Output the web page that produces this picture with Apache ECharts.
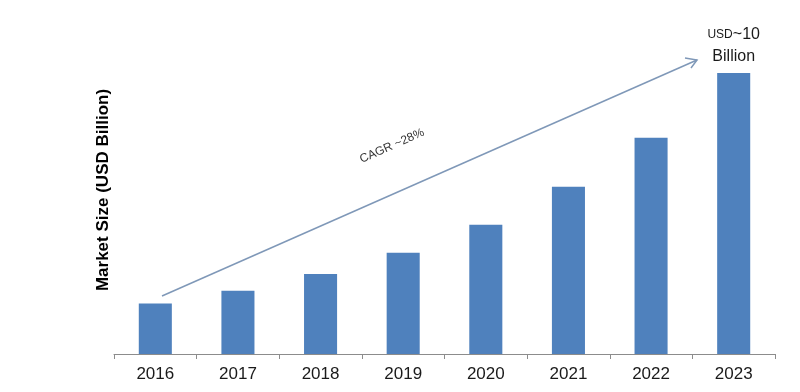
<!DOCTYPE html>
<html>
<head>
<meta charset="utf-8">
<script src="https://cdn.jsdelivr.net/npm/echarts@6/dist/echarts.min.js"></script>
<style>
html,body{margin:0;padding:0;background:#fff;}
#c{width:800px;height:392px;}
</style>
</head>
<body>
<div id="c"></div>
<script>
const categories = ['2016','2017','2018','2019','2020','2021','2022','2023'];
const marketSize = [1.8, 2.25, 2.85, 3.6, 4.6, 5.95, 7.7, 10];
const yAxisTitle = 'Market Size (USD Billion)';
const cagrText = 'CAGR ~28%';

const chart = echarts.init(document.getElementById('c'), null, {renderer:'canvas'});
const font = '"Liberation Sans", Arial, sans-serif';

chart.setOption({
  backgroundColor:'#ffffff',
  animation:false,
  grid:{left:114, right:25, top:73, bottom:38},
  xAxis:{
    type:'category',
    data:categories,
    axisLine:{lineStyle:{color:'#8c8c8c', width:1}},
    axisTick:{show:true, length:5, alignWithLabel:false, lineStyle:{color:'#8c8c8c'}},
    axisLabel:{color:'#1a1a1a', fontSize:17, fontFamily:font, margin:12}
  },
  yAxis:{
    type:'value',
    min:0, max:10,
    axisLine:{show:false}, axisTick:{show:false}, axisLabel:{show:false}, splitLine:{show:false}
  },
  series:[{
    type:'bar',
    data:marketSize.map((v,i)=> i===categories.length-1 ? {value:v, label:{show:true}} : v),
    barWidth:'40%',
    itemStyle:{color:'#4f81bd'},
    label:{
      show:false,
      position:'top',
      distance:5,
      fontFamily:font,
      formatter:function(p){ return '{s|USD}{b|~' + Math.round(p.value) + '}\n{b|Billion}'; },
      rich:{
        s:{fontSize:12, color:'#1a1a1a', fontFamily:font, lineHeight:22},
        b:{fontSize:16, color:'#1a1a1a', fontFamily:font, lineHeight:22}
      }
    }
  }],
  graphic:[
    {type:'text', x:103, y:190, rotation:Math.PI/2,
      style:{text:yAxisTitle, font:'bold 17px '+font, fill:'#000', align:'center', verticalAlign:'middle'}},
    {type:'line', shape:{x1:162, y1:296, x2:697, y2:60}, style:{stroke:'#7f98b8', lineWidth:1.5}},
    {type:'polyline', shape:{points:[[685,58],[697,60],[691,68]]}, style:{stroke:'#7f98b8', lineWidth:1.5, fill:null}},
    {type:'text', x:392, y:146, rotation:24*Math.PI/180,
      style:{text:cagrText, font:'12px '+font, fill:'#333', align:'center', verticalAlign:'middle'}}
  ]
});
</script>
</body>
</html>
